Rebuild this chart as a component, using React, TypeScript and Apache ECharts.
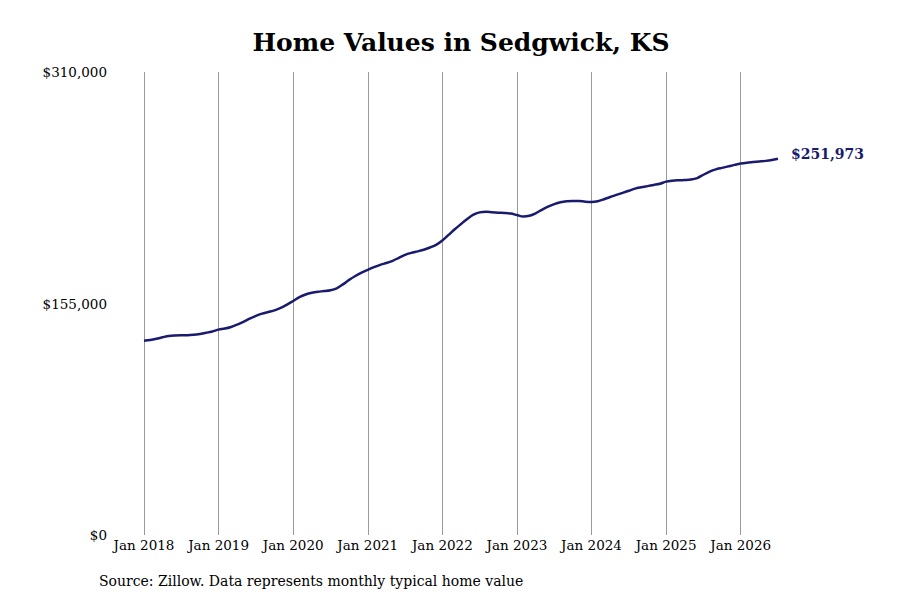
import { useEffect, useRef } from "react";
import * as echarts from "echarts";

const START_YEAR = 2018;
const MONTH_NAMES = ["Jan", "Feb", "Mar", "Apr", "May", "Jun", "Jul", "Aug", "Sep", "Oct", "Nov", "Dec"];

// Typical home value, monthly from Jan 2018
const homeValues = [
  // 2018
  130100, 130600, 131400, 132400, 133300, 133600, 133700, 133700, 134000, 134600, 135400, 136300,
  // 2019
  137500, 138200, 139300, 140900, 142700, 144800, 146700, 148200, 149300, 150400, 152000, 154200,
  // 2020
  156700, 159200, 161000, 162200, 162900, 163300, 163900, 165200, 167800, 170800, 173400, 175600,
  // 2021
  177500, 179300, 180900, 182100, 183600, 185600, 187600, 188900, 189900, 191000, 192500, 194300,
  // 2022
  197200, 200900, 204700, 208200, 211600, 214500, 216000, 216500, 216100, 215800, 215600, 215200,
  // 2023
  214200, 213200, 213700, 215400, 217700, 219800, 221500, 222800, 223500, 223700, 223600, 223200,
  // 2024
  223000, 223500, 224800, 226300, 227700, 229100, 230500, 231900, 232800, 233600, 234400, 235200,
  // 2025
  236600, 237200, 237500, 237700, 238000, 239000, 241200, 243300, 244800, 245800, 246800, 247800,
  // 2026
  248700, 249300, 249700, 250100, 250500, 251100, 251973,
];

const months = homeValues.map(
  (_, i) => `${MONTH_NAMES[i % 12]} ${START_YEAR + Math.floor(i / 12)}`
);

const yTicks = [0, 155000, 310000];

const SERIF = "DejaVu Serif, serif";
const NAVY = "#1a1a6e";

const money = (v: number): string => `$${v.toLocaleString("en-US")}`;

function HomeValueChart(): React.ReactElement {
  const ref = useRef<HTMLDivElement | null>(null);

  useEffect(() => {
    const el = ref.current;
    if (el === null) return;
    const chart = echarts.init(el, null, { renderer: "svg" });

    chart.setOption({
      animation: false,
      backgroundColor: "#ffffff",
      textStyle: { fontFamily: SERIF },
      title: {
        text: "Home Values in Sedgwick, KS",
        left: 456,
        top: 25,
        textAlign: "center",
        textStyle: { fontFamily: SERIF, fontSize: 25, fontWeight: "bold", color: "#000" },
      },
      grid: { left: 144, right: 122, top: 72, bottom: 65, containLabel: false },
      xAxis: {
        type: "category",
        data: months,
        boundaryGap: false,
        axisLine: { show: false },
        axisTick: { show: false },
        axisLabel: {
          interval: (i: number) => i % 12 === 0,
          margin: 3,
          color: "#000",
          fontFamily: SERIF,
          fontSize: 13.5,
        },
        splitLine: {
          show: true,
          interval: (i: number) => i % 12 === 0,
          lineStyle: { color: "#9a9a9a", width: 1 },
        },
      },
      yAxis: {
        type: "value",
        min: yTicks[0],
        max: yTicks[yTicks.length - 1],
        interval: yTicks[1] - yTicks[0],
        axisLine: { show: false },
        axisTick: { show: false },
        splitLine: { show: false },
        axisLabel: {
          formatter: (v: number) => money(v),
          margin: 37,
          color: "#000",
          fontFamily: SERIF,
          fontSize: 13.5,
        },
      },
      series: [
        {
          type: "line",
          data: homeValues,
          showSymbol: false,
          smooth: 0.3,
          lineStyle: { color: NAVY, width: 2.5 },
          itemStyle: { color: NAVY },
          endLabel: {
            show: true,
            formatter: (p: { value: number }) => money(p.value),
            distance: 13,
            offset: [0, -5],
            color: NAVY,
            fontFamily: SERIF,
            fontSize: 14,
            fontWeight: "bold",
          },
        },
      ],
      graphic: [
        {
          type: "text",
          left: 99,
          top: 574,
          style: {
            text: "Source: Zillow. Data represents monthly typical home value",
            fill: "#000",
            font: `14px ${SERIF}`,
          },
        },
      ],
    });

    return () => chart.dispose();
  }, []);

  return <div ref={ref} style={{ width: 900, height: 600 }} />;
}

export default function App(): React.ReactElement {
  return (
    <div style={{ position: "fixed", left: 0, top: 0, margin: 0 }}>
      <HomeValueChart />
    </div>
  );
}
